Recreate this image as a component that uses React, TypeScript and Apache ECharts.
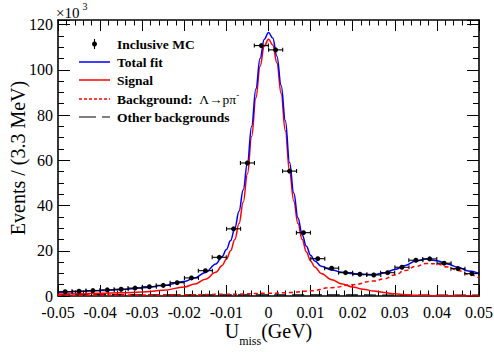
import React, { useEffect, useRef } from "react";
import * as echarts from "echarts";

// Histogram (Inclusive MC), unit: 10^3 events per 3.3 MeV bin
const binCenters = [
  -0.0483, -0.045, -0.0417, -0.0383, -0.035, -0.0317, -0.0283, -0.025, -0.0217, -0.0183,
  -0.015, -0.0117, -0.0083, -0.005, -0.0017, 0.0017, 0.005, 0.0083, 0.0117, 0.015,
  0.0183, 0.0217, 0.025, 0.0283, 0.0317, 0.035, 0.0383, 0.0417, 0.045, 0.0483,
];
const events = [
  1.9, 2.1, 2.4, 2.7, 3.0, 3.5, 4.1, 4.7, 5.9, 8.0,
  11.2, 17.1, 29.7, 58.8, 110.7, 108.8, 55.2, 28.0, 16.5, 12.3,
  10.3, 9.6, 9.3, 10.3, 12.7, 15.8, 16.4, 14.5, 12.1, 9.9,
];
const binHalfWidth = 0.00167;

// Fit curves
const curveX = [
  -0.05, -0.045, -0.04, -0.035, -0.03, -0.025, -0.02, -0.0175, -0.015, -0.0125,
  -0.011, -0.01, -0.009, -0.008, -0.007, -0.006, -0.005, -0.004, -0.003, -0.002,
  -0.001, 0, 0.001, 0.002, 0.003, 0.004, 0.005, 0.006, 0.007, 0.008,
  0.009, 0.01, 0.011, 0.0125, 0.015, 0.0175, 0.02, 0.0225, 0.025, 0.0275,
  0.03, 0.0325, 0.035, 0.0375, 0.04, 0.0425, 0.045, 0.0475, 0.05,
];
const totalFit = [
  1.7, 2.0, 2.4, 2.9, 3.6, 4.6, 6.4, 8.0, 10.4, 14.2,
  17.5, 20.5, 24.5, 30, 37.5, 47, 59, 75, 91.5, 105,
  113.5, 116.5, 114, 106, 93, 77.5, 59, 45.5, 34.5, 27,
  22, 18, 15.5, 13.2, 11.5, 10.5, 9.9, 9.5, 9.4, 10.2,
  11.7, 13.5, 15.5, 16.3, 15.6, 14.2, 12.7, 11.0, 10.0,
];
const signal = [
  0.9, 1.0, 1.2, 1.4, 1.8, 2.5, 4.0, 5.3, 7.4, 10.5,
  13.5, 16.3, 20, 25, 32, 41.5, 54, 70.5, 87.5, 101.5,
  110.5, 113.5, 111, 103, 89.5, 73, 55, 42, 32, 25,
  19.5, 15.5, 12.8, 10, 7.2, 5.3, 4.0, 3.0, 2.2, 1.5,
  0.95, 0.6, 0.35, 0.2, 0.12, 0.08, 0.05, 0.03, 0.02,
];
const bkgLambdaX = [
  -0.05, -0.04, -0.03, -0.02, -0.01, 0, 0.005, 0.01, 0.015, 0.02,
  0.025, 0.0275, 0.03, 0.0325, 0.035, 0.0375, 0.04, 0.0425, 0.045, 0.0475, 0.05,
];
const bkgLambdaY = [
  0.35, 0.4, 0.45, 0.55, 0.75, 1.2, 1.5, 2.3, 3.7, 5.0,
  6.6, 7.6, 9.3, 11.3, 13.1, 14.4, 14.2, 12.8, 11.3, 9.6, 7.9,
];
const otherX = [-0.05, -0.025, 0, 0.025, 0.05];
const otherY = [0.6, 0.55, 0.5, 0.45, 0.4];

const xTicks = { min: -0.05, max: 0.05, interval: 0.01 };
const yTicks = { min: 0, max: 122, interval: 20 };

const FONT = "'Liberation Serif', 'Times New Roman', 'DejaVu Serif', serif";

function zip(xs: number[], ys: number[]) {
  return xs.map((x, i) => [x, ys[i]]);
}

export default function App() {
  const ref = useRef<HTMLDivElement>(null);
  useEffect(() => {
    if (!ref.current) return;
    const chart = echarts.init(ref.current, null, { renderer: "svg" });
    const axisLine = { show: true, onZero: false, lineStyle: { color: "#000", width: 1.6 } };
    const xTick = { show: true, inside: true, length: 11, lineStyle: { color: "#000", width: 1 } };
    const xMinor = { show: true, splitNumber: 5, length: 5.5, lineStyle: { color: "#000", width: 1 } };
    const yTick = { show: true, inside: true, length: 12, lineStyle: { color: "#000", width: 1 } };
    const yMinor = { show: true, splitNumber: 4, length: 6, lineStyle: { color: "#000", width: 1 } };
    const fmtX = (v: number) => {
      const s = Number(v.toFixed(3));
      return s === 0 ? "0" : String(s);
    };
    const legendY = [44, 62, 80, 99, 117];
    const legendText = (y: number, text: string, rich?: any) => ({
      type: "text",
      x: 117,
      y,
      style: {
        text,
        fontFamily: FONT,
        fontWeight: "bold",
        fontSize: 13.5,
        fill: "#000",
        verticalAlign: "middle",
        align: "left",
        rich,
      },
    });
    chart.setOption({
      animation: false,
      backgroundColor: "#fff",
      grid: { left: 58, right: 15, top: 20, bottom: 56, outerBoundsMode: "none", containLabel: false },
      xAxis: [
        {
          type: "value",
          position: "bottom",
          ...xTicks,
          axisLine,
          axisTick: xTick,
          minorTick: xMinor,
          splitLine: { show: false },
          axisLabel: { fontFamily: FONT, fontSize: 16, lineHeight: 16, color: "#000", margin: 8, formatter: fmtX },
          name: "{u|U}{s|miss}{u|(GeV)}",
          nameLocation: "middle",
          nameGap: 25,
          nameMoveOverlap: false,
          nameTextStyle: {
            rich: {
              u: { fontFamily: FONT, fontSize: 20, color: "#000", lineHeight: 20, verticalAlign: "top" },
              s: { fontFamily: FONT, fontSize: 12, color: "#000", lineHeight: 12, padding: [14, 0, 0, 0], verticalAlign: "top" },
            },
          },
        },
        {
          type: "value",
          position: "top",
          ...xTicks,
          axisLine,
          axisTick: xTick,
          minorTick: xMinor,
          splitLine: { show: false },
          axisLabel: { show: false },
        },
      ],
      yAxis: [
        {
          type: "value",
          position: "left",
          ...yTicks,
          axisLine,
          axisTick: yTick,
          minorTick: yMinor,
          splitLine: { show: false },
          axisLabel: { fontFamily: FONT, fontSize: 16, lineHeight: 15, color: "#000", margin: 5, showMaxLabel: false },
          name: "Events / (3.3 MeV)",
          nameLocation: "middle",
          nameGap: 30,
          nameMoveOverlap: false,
          nameTextStyle: { fontFamily: FONT, fontSize: 20, color: "#000" },
        },
        {
          type: "value",
          position: "right",
          ...yTicks,
          axisLine,
          axisTick: yTick,
          minorTick: yMinor,
          splitLine: { show: false },
          axisLabel: { show: false },
        },
      ],
      series: [
        {
          name: "Other backgrounds",
          type: "line",
          data: zip(otherX, otherY),
          showSymbol: false,
          smooth: true,
          lineStyle: { color: "#000", width: 1.2, type: [12, 6] },
          z: 2,
        },
        {
          name: "Background",
          type: "line",
          data: zip(bkgLambdaX, bkgLambdaY),
          showSymbol: false,
          smooth: true,
          smoothMonotone: "x",
          lineStyle: { color: "#ff0000", width: 1.5, type: [4, 3] },
          z: 3,
        },
        {
          name: "Signal",
          type: "line",
          data: zip(curveX, signal),
          showSymbol: false,
          smooth: 0.4,
          smoothMonotone: "x",
          lineStyle: { color: "#ff0000", width: 1.5 },
          z: 4,
        },
        {
          name: "Total fit",
          type: "line",
          data: zip(curveX, totalFit),
          showSymbol: false,
          smooth: 0.4,
          smoothMonotone: "x",
          lineStyle: { color: "#0000ff", width: 1.5 },
          z: 5,
        },
        {
          name: "Inclusive MC",
          type: "custom",
          data: zip(binCenters, events),
          z: 6,
          renderItem: (_p: any, api: any) => {
            const x = api.value(0);
            const y = api.value(1);
            const c = api.coord([x, y]);
            const l = api.coord([x - binHalfWidth, y]);
            const r = api.coord([x + binHalfWidth, y]);
            const st = { stroke: "#000", lineWidth: 1.1 };
            return {
              type: "group",
              children: [
                { type: "line", shape: { x1: l[0], y1: c[1], x2: r[0], y2: c[1] }, style: st },
                { type: "line", shape: { x1: l[0], y1: c[1] - 2, x2: l[0], y2: c[1] + 2 }, style: st },
                { type: "line", shape: { x1: r[0], y1: c[1] - 2, x2: r[0], y2: c[1] + 2 }, style: st },
                { type: "circle", shape: { cx: c[0], cy: c[1], r: 2.5 }, style: { fill: "#000" } },
              ],
            };
          },
        },
      ],
      graphic: [
        {
          type: "text",
          x: 56,
          y: 12.5,
          style: { text: "×10", fontFamily: FONT, fontSize: 15, fill: "#000", verticalAlign: "middle" },
        },
        {
          type: "text",
          x: 82.5,
          y: 6,
          style: { text: "3", fontFamily: FONT, fontSize: 10, fill: "#000", verticalAlign: "middle" },
        },
        // legend markers
        { type: "circle", shape: { cx: 94.5, cy: legendY[0], r: 2.5 }, style: { fill: "#000" } },
        { type: "line", shape: { x1: 94.5, y1: legendY[0] - 5, x2: 94.5, y2: legendY[0] + 5 }, style: { stroke: "#000", lineWidth: 1.1 } },
        { type: "line", shape: { x1: 79, y1: legendY[1], x2: 110, y2: legendY[1] }, style: { stroke: "#0000ff", lineWidth: 1.5 } },
        { type: "line", shape: { x1: 79, y1: legendY[2], x2: 110, y2: legendY[2] }, style: { stroke: "#ff0000", lineWidth: 1.5 } },
        { type: "line", shape: { x1: 79, y1: legendY[3], x2: 110, y2: legendY[3] }, style: { stroke: "#ff0000", lineWidth: 1.5, lineDash: [3, 2] } },
        { type: "line", shape: { x1: 79, y1: legendY[4], x2: 110, y2: legendY[4] }, style: { stroke: "#000", lineWidth: 1.2, lineDash: [17, 6] } },
        legendText(legendY[0], "Inclusive MC"),
        legendText(legendY[1], "Total fit"),
        legendText(legendY[2], "Signal"),
        legendText(legendY[3], "{b|Background:}  {s|Λ→pπ}{p|-}", {
          b: { fontFamily: FONT, fontWeight: "bold", fontSize: 13.5, fill: "#000" },
          s: { fontFamily: FONT, fontSize: 13.5, fill: "#000" },
          p: { fontFamily: FONT, fontSize: 9, fill: "#000", padding: [0, 0, 8, 0] },
        }),
        legendText(legendY[4], "Other backgrounds"),
      ],
    });
    return () => chart.dispose();
  }, []);
  return <div ref={ref} style={{ position: "fixed", left: 0, top: 0, width: 494, height: 352 }} />;
}
